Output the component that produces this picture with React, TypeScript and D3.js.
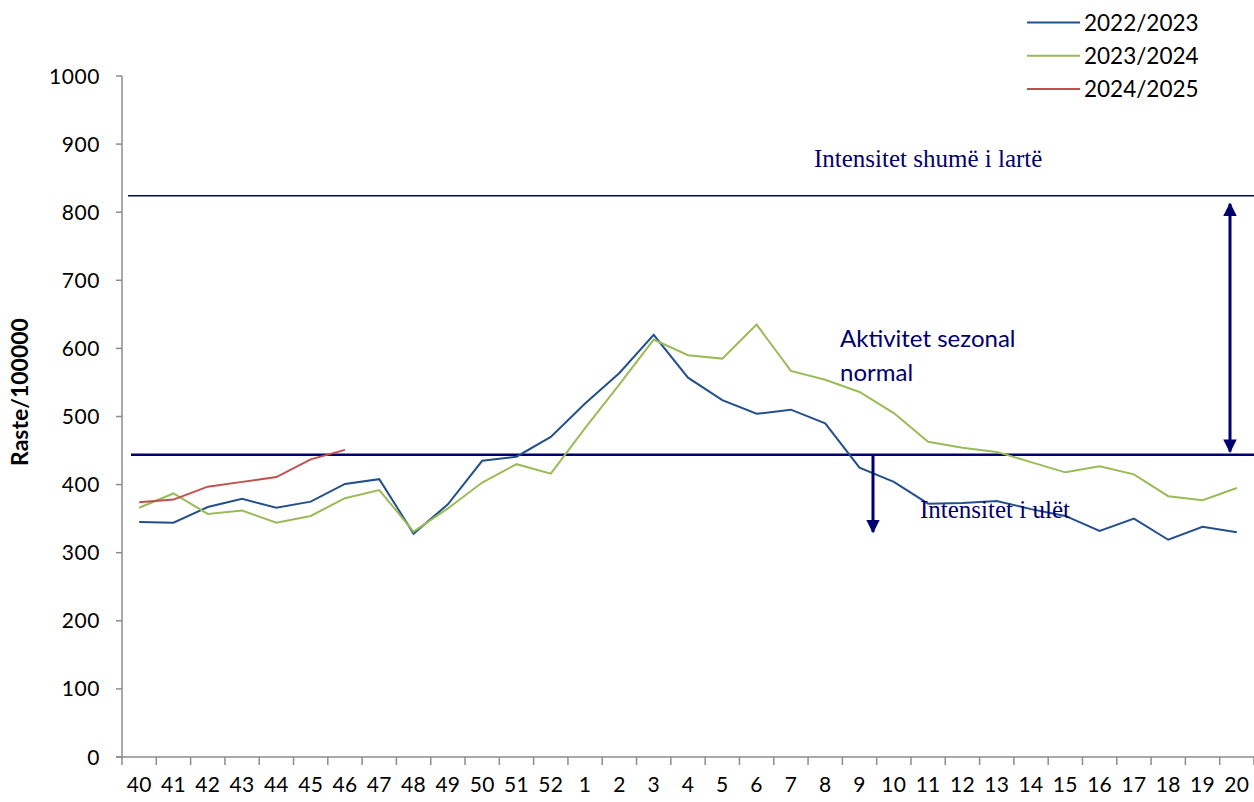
import React from "react";
import * as d3 from "d3";

const weeks = [
  "40", "41", "42", "43", "44", "45", "46", "47", "48", "49", "50", "51", "52",
  "1", "2", "3", "4", "5", "6", "7", "8", "9", "10", "11", "12", "13", "14", "15", "16", "17", "18", "19", "20",
];

const s2022 = [
  345, 344, 367, 379, 366, 375, 401, 408, 328, 371, 435, 441, 470,
  519, 564, 620, 557, 524, 504, 510, 490, 425, 404, 372, 373, 376, 364, 354, 332, 350, 319, 338, 330,
];

const s2023 = [
  366, 387, 357, 362, 344, 354, 380, 392, 331, 365, 403, 430, 416,
  483, 547, 613, 590, 585, 635, 567, 554, 536, 505, 463, 454, 448, 433, 418, 427, 415, 383, 377, 395,
];

const s2024 = [374, 378, 397, 404, 411, 437, 451];

const seriesNames = ["2022/2023", "2023/2024", "2024/2025"];
const seriesColors = ["#24508a", "#9bbb59", "#c0504d"];

const yTicks = [0, 100, 200, 300, 400, 500, 600, 700, 800, 900, 1000];
const highThreshold = 824;
const lowThreshold = 444;

const W = 1254;
const H = 802;
const navy = "#00006e";
const sans = "Lato, 'Open Sans', sans-serif";
const serif = "'Liberation Serif', 'DejaVu Serif', serif";

export default function App() {
  const x = d3.scaleBand<string>().domain(weeks).range([122, 1254]).padding(0);
  const y = d3.scaleLinear().domain([0, 1000]).range([757, 76]);
  const cx = (w: string) => (x(w) as number) + x.bandwidth() / 2;

  const line = d3
    .line<number>()
    .x((_, i) => cx(weeks[i]))
    .y((d) => y(d));

  const allSeries = [s2022, s2023, s2024];
  const boundaries = weeks.map((w) => x(w) as number).concat([1254]);

  const arrowX = 1230;
  const downX = 873;

  return (
    <svg
      width={W}
      height={H}
      style={{ position: "absolute", left: 0, top: 0, background: "#fff" }}
    >
      <defs>
        <marker id="ah" viewBox="0 0 10 10" refX="9" refY="5" markerWidth="4.5" markerHeight="4.5" orient="auto-start-reverse">
          <path d="M0,0 L10,5 L0,10 Z" fill={navy} />
        </marker>
      </defs>

      {/* y axis */}
      <line x1={122} x2={122} y1={y(1000)} y2={y(0)} stroke="#8c8c8c" strokeWidth={1.5} />
      {yTicks.map((t) => (
        <g key={t}>
          <line x1={116} x2={122} y1={y(t)} y2={y(t)} stroke="#8c8c8c" strokeWidth={1.5} />
          <text x={100} y={y(t)} dy="0.36em" textAnchor="end" fontFamily={sans} fontSize={21} letterSpacing={0.6} fill="#000">
            {t}
          </text>
        </g>
      ))}
      <text
        transform={`translate(28, 392) rotate(-90)`}
        textAnchor="middle"
        fontFamily={sans}
        fontWeight="bold"
        fontSize={23}
      >
        Raste/100000
      </text>

      {/* x axis */}
      <line x1={116} x2={1254} y1={y(0)} y2={y(0)} stroke="#8c8c8c" strokeWidth={1.5} />
      {boundaries.map((b, i) => (
        <line key={i} x1={b} x2={b} y1={y(0)} y2={y(0) + 8} stroke="#8c8c8c" strokeWidth={1.5} />
      ))}
      {weeks.map((w) => (
        <text key={w} x={cx(w)} y={792} textAnchor="middle" fontFamily={sans} fontSize={21} letterSpacing={0.3}>
          {w}
        </text>
      ))}

      {/* thresholds */}
      <line x1={128} x2={1254} y1={y(highThreshold)} y2={y(highThreshold)} stroke={navy} strokeWidth={1.5} />
      <line x1={131} x2={1254} y1={y(lowThreshold)} y2={y(lowThreshold)} stroke={navy} strokeWidth={2.5} />

      {/* series */}
      {allSeries.map((s, i) => (
        <path key={i} d={line(s) || ""} fill="none" stroke={seriesColors[i]} strokeWidth={2} />
      ))}

      {/* arrows */}
      <line
        x1={arrowX}
        x2={arrowX}
        y1={y(highThreshold) + 8}
        y2={y(lowThreshold) - 3}
        stroke={navy}
        strokeWidth={3}
        markerStart="url(#ah)"
        markerEnd="url(#ah)"
      />
      <line
        x1={downX}
        x2={downX}
        y1={y(lowThreshold)}
        y2={532}
        stroke={navy}
        strokeWidth={3}
        markerEnd="url(#ah)"
      />

      {/* annotations */}
      <text x={814} y={167} fontFamily={serif} fontSize={25} fill={navy}>
        Intensitet shumë i lartë
      </text>
      <text x={840} y={347} fontFamily={sans} fontSize={24} fill={navy}>
        Aktivitet sezonal
      </text>
      <text x={840} y={381} fontFamily={sans} fontSize={24} fill={navy}>
        normal
      </text>
      <text x={920} y={518} fontFamily={serif} fontSize={25} fill={navy}>
        Intensitet i ulët
      </text>

      {/* legend */}
      {seriesNames.map((n, i) => (
        <g key={n} transform={`translate(1027, ${22.5 + i * 33.3})`}>
          <line x1={0} x2={53} y1={0} y2={0} stroke={seriesColors[i]} strokeWidth={2} />
          <text x={57} y={0} dy="0.36em" fontFamily={sans} fontSize={22.5}>
            {n}
          </text>
        </g>
      ))}
    </svg>
  );
}
